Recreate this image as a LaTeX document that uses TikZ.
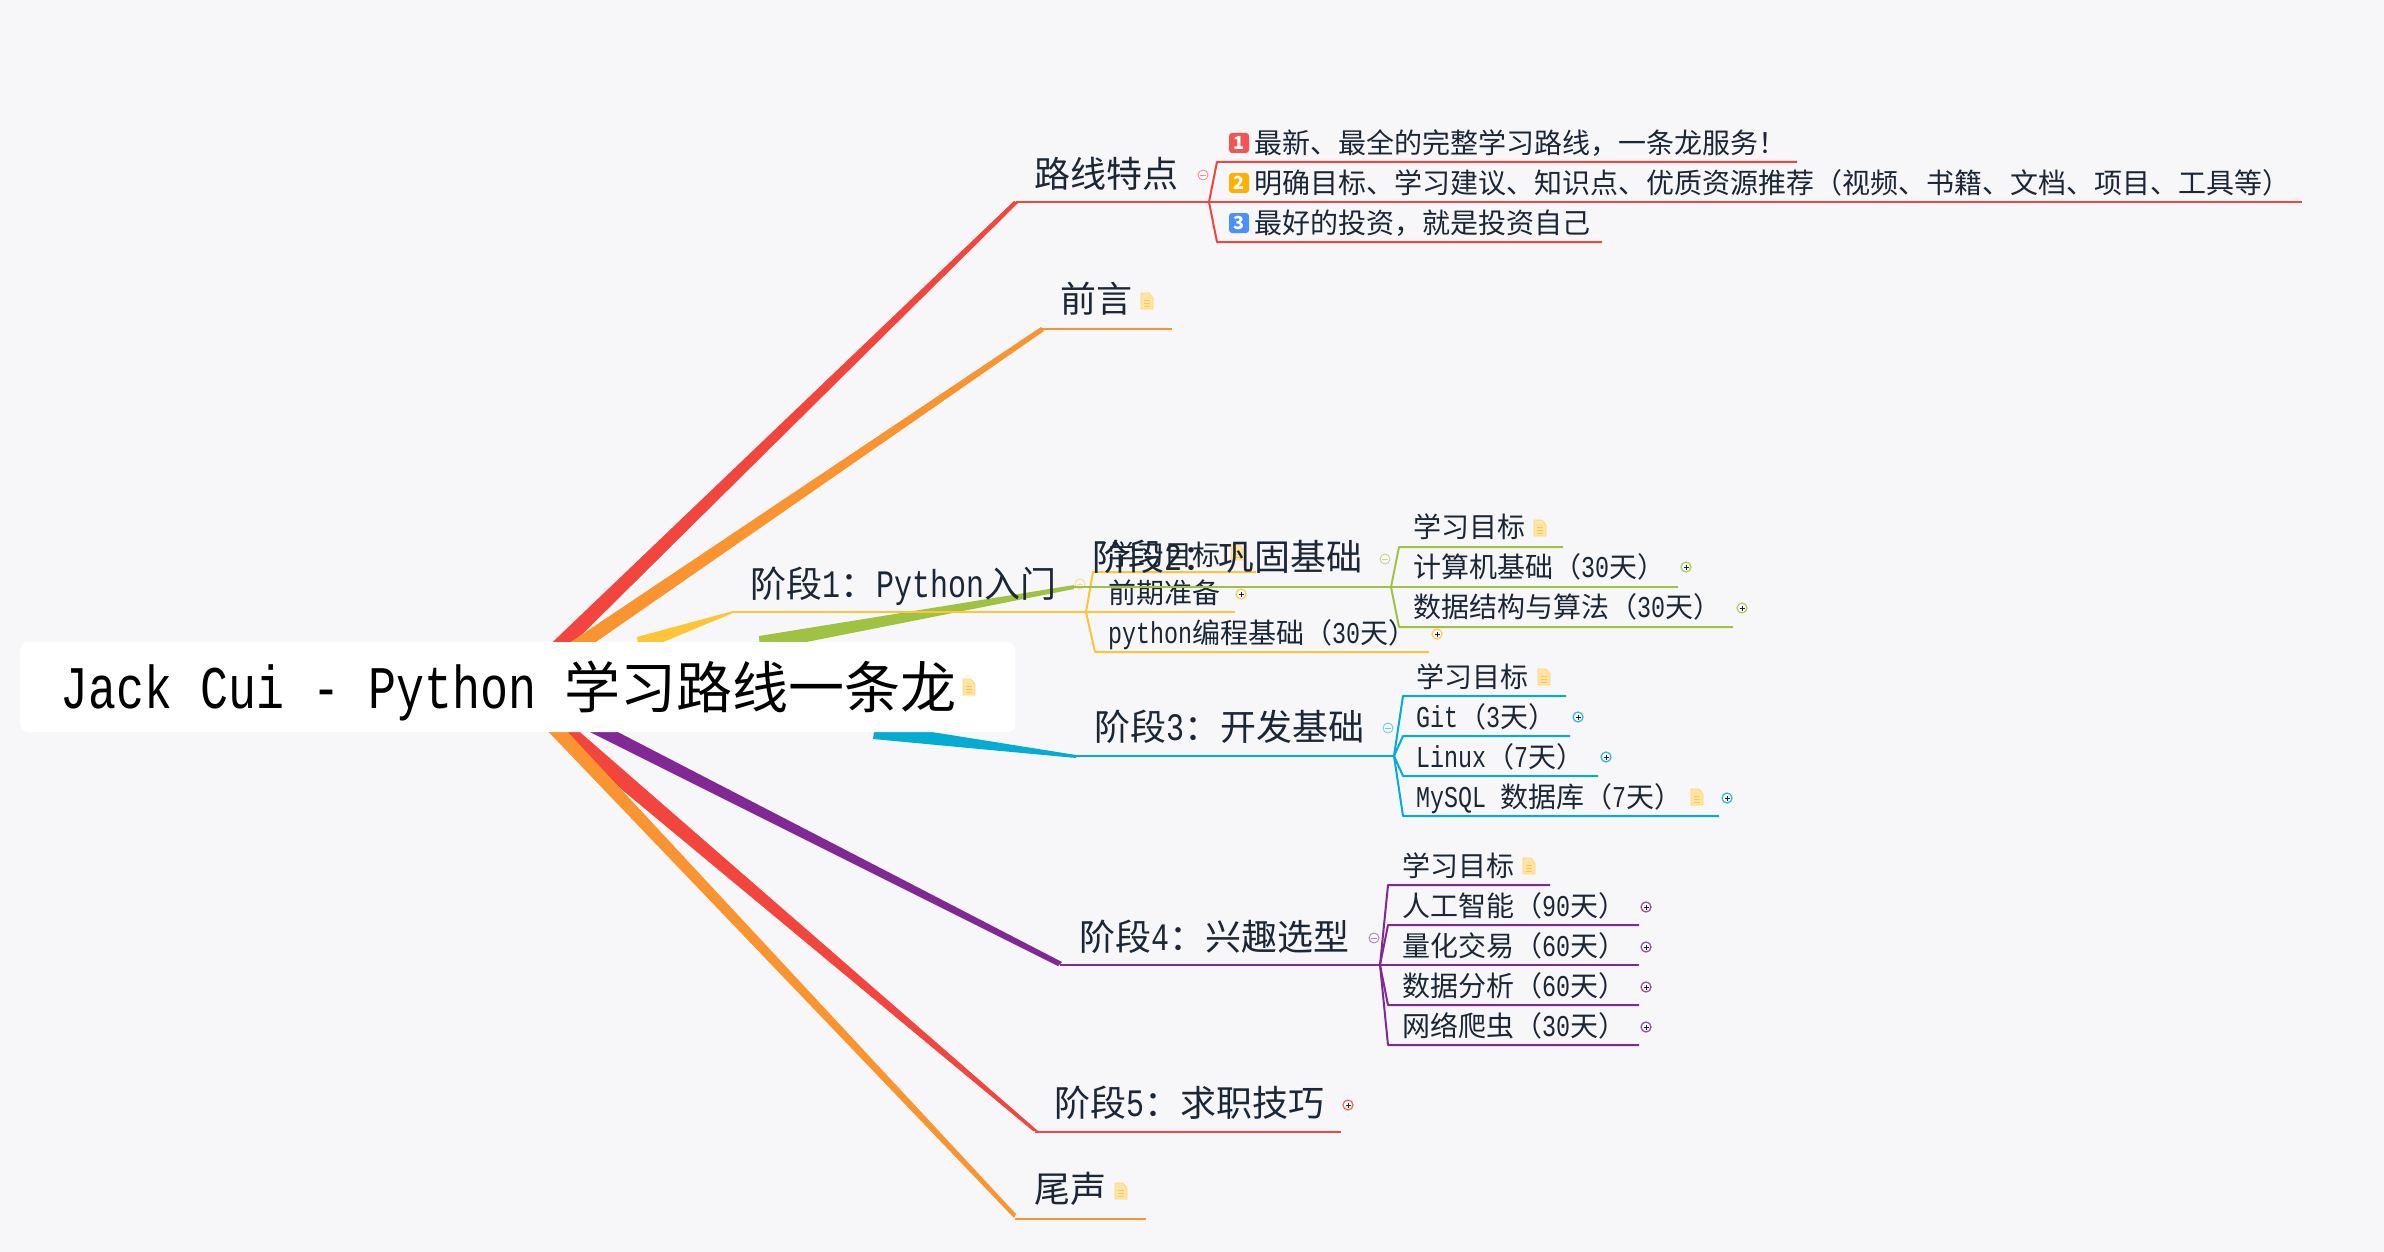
\documentclass[tikz,border=0pt]{standalone}
\usepackage{fontspec}
\setmainfont{Noto Sans CJK SC}
\newfontfamily\latfont[Scale=1.08,FakeStretch=0.7716]{Liberation Mono}
\newcommand{\lat}[1]{{\latfont #1}}
\newcommand{\lsp}{\hspace{.463em}}
\definecolor{bgcol}{HTML}{F7F7FA}
\definecolor{redcol}{HTML}{F2453D}
\definecolor{orgcol}{HTML}{F99431}
\definecolor{ylwcol}{HTML}{FFC437}
\definecolor{grncol}{HTML}{A0C243}
\definecolor{cyncol}{HTML}{04ABD2}
\definecolor{prpcol}{HTML}{802995}
\definecolor{inkcol}{HTML}{1B2636}
\definecolor{onecol}{HTML}{F25555}
\definecolor{twocol}{HTML}{FFB000}
\definecolor{thrcol}{HTML}{4C90FF}
\tikzset{
  rootbox/.style={fill=white, rounded corners=8pt, anchor=west, minimum height=90pt,
    text width=915pt, align=left, inner xsep=40pt, inner ysep=0pt, text=black,
    text height=52pt, text depth=10pt, font=\fontsize{56}{56}\selectfont},
  topic/.style={anchor=west, inner sep=0pt, text=inkcol, text height=32pt, text depth=7pt,
    font=\fontsize{36}{36}\selectfont},
  kid/.style={anchor=west, inner sep=0pt, text=inkcol, text height=26pt, text depth=5pt,
    font=\fontsize{28}{28}\selectfont},
  badge/.style={fill=#1, text=white, rounded corners=3pt, minimum size=20pt, inner sep=0pt,
    font=\fontsize{18}{18}\selectfont\bfseries},
  ln/.style={line width=2pt, color=#1, line join=round},
  minusicon/.pic={
    \draw[#1, opacity=.6, line width=.9pt, fill=white] (0,0) circle (5);
    \draw[#1, opacity=.6, line width=.9pt] (-3,0) -- (3,0);
  },
  plusicon/.pic={
    \draw[#1, opacity=.8, line width=1.3pt, fill=white] (0,0) circle (5);
    \draw[inkcol, line width=.8pt] (-2.5,0) -- (2.5,0) (0,-2.5) -- (0,2.5);
  },
  noteicon/.pic={
    \draw[fill=ylwcol!45, draw=ylwcol!70, line width=.8pt] (-6,-8) -- (2,-8) -- (6,-3) -- (6,8) -- (-6,8) -- cycle;
    \draw[ylwcol!90, line width=1pt] (-3,-1) -- (3,-1) (-3,2) -- (3,2) (-3,5) -- (3,5);
  }
}
\begin{document}
\begin{tikzpicture}[x=1pt, y=-1pt]
\useasboundingbox (0,0) rectangle (2384,1252);
\fill[bgcol] (0,0) rectangle (2384,1252);

% junctions on the topic lines
\coordinate (t1) at (1016,202);   \coordinate (j1) at (1209,202);
\coordinate (t2) at (1042,329);   \coordinate (j2) at (1172,329);
\coordinate (t3) at (733,612);    \coordinate (j3) at (1086,612);
\coordinate (t4) at (1074,587);   \coordinate (j4) at (1391,587);
\coordinate (t5) at (1076,756);   \coordinate (j5) at (1394,756);
\coordinate (t6) at (1060,965);   \coordinate (j6) at (1380,965);
\coordinate (t7) at (1035,1132);  \coordinate (j7) at (1341,1132);
\coordinate (t8) at (1015,1219);  \coordinate (j8) at (1146,1219);

% wide ends, under the root box
\coordinate (a1) at (513,680);  \coordinate (b1) at (536,680);
\coordinate (a2) at (514,680);  \coordinate (b2) at (541,680);
\coordinate (a3) at (637,637);  \coordinate (b3) at (644,650);  \coordinate (c3) at (639,650);
\coordinate (a4) at (759,636);  \coordinate (b4) at (766,650);  \coordinate (c4) at (760,650);
\coordinate (a5) at (873,739);  \coordinate (b5) at (888,725);  \coordinate (c5) at (875,725);
\coordinate (a6) at (582,728);  \coordinate (b6) at (610,728);
\coordinate (a7) at (514,700);  \coordinate (b7) at (543,700);
\coordinate (a8) at (518,700);  \coordinate (b8) at (538,700);

% thin ends, by the topic lines
\coordinate (u1) at (1014,201);  \coordinate (v1) at (1018,203);
\coordinate (u2) at (1041,327);  \coordinate (v2) at (1044,331);
\coordinate (u3) at (733,611);   \coordinate (v3) at (733,613);
\coordinate (u4) at (1074,585);  \coordinate (v4) at (1074,589);
\coordinate (u5) at (1076,758);  \coordinate (v5) at (1076,755);
\coordinate (u6) at (1058,966);  \coordinate (v6) at (1062,962);
\coordinate (u7) at (1033,1131); \coordinate (v7) at (1038,1131);
\coordinate (u8) at (1014,1218); \coordinate (v8) at (1016,1214);

\fill[redcol] (a1) -- (u1) -- (v1) -- (b1) -- cycle;
\fill[orgcol] (a2) -- (u2) -- (v2) -- (b2) -- cycle;
\fill[ylwcol] (a3) -- (u3) -- (v3) -- (b3) -- (c3) -- cycle;
\fill[grncol] (a4) -- (u4) -- (v4) -- (b4) -- (c4) -- cycle;
\fill[cyncol] (a5) -- (u5) -- (v5) -- (b5) -- (c5) -- cycle;
\fill[prpcol] (a6) -- (u6) -- (v6) -- (b6) -- cycle;
\fill[redcol] (a7) -- (u7) -- (v7) -- (b7) -- cycle;
\fill[orgcol] (a8) -- (u8) -- (v8) -- (b8) -- cycle;

\draw[ln=redcol] (t1) -- (j1);
\draw[ln=orgcol] (t2) -- (j2);
\draw[ln=ylwcol] (t3) -- (j3);
\draw[ln=cyncol] (t5) -- (j5);
\draw[ln=prpcol] (t6) -- (j6);
\draw[ln=redcol] (t7) -- (j7);
\draw[ln=orgcol] (t8) -- (j8);

\node[rootbox] (root) at (20,687) {\lat{Jack\lsp Cui\lsp -\lsp Python\lsp}学习路线一条龙};
\pic at (969,687) {noteicon};

% route features
\node[topic] (feat) at (1034,175) {路线特点};
\pic at (1203,175) {minusicon=redcol};
\node[badge=onecol] (n1) at (1239,143) {1};
\node[badge=twocol] (n2) at (1239,183) {2};
\node[badge=thrcol] (n3) at (1239,223) {3};
\node[kid] (f1) at (1254,143) {最新、最全的完整学习路线，一条龙服务！};
\node[kid] (f2) at (1254,183) {明确目标、学习建议、知识点、优质资源推荐（视频、书籍、文档、项目、工具等）};
\node[kid] (f3) at (1254,223) {最好的投资，就是投资自己};
\coordinate (s11) at (1217,162);  \coordinate (e11) at (1797,162);
\coordinate (e12) at (2302,202);
\coordinate (s13) at (1217,242);  \coordinate (e13) at (1602,242);
\draw[ln=redcol] (j1) -- (s11) -- (e11);
\draw[ln=redcol] (j1) -- (e12);
\draw[ln=redcol] (j1) -- (s13) -- (e13);

% preface
\node[topic] (pref) at (1060,300) {前言};
\pic at (1147,301) {noteicon};

% stage 1
\node[topic] (st1) at (750,585) {阶段\lat{1}：\lat{Python}入门};
\pic at (1080,584) {minusicon=ylwcol};
\node[kid] (k31) at (1108,555) {学习目标};
\pic at (1237,552) {noteicon};
\node[kid] (k32) at (1108,593) {前期准备};
\pic at (1241,594) {plusicon=ylwcol};
\node[kid] (k33) at (1108,633) {\lat{python}编程基础（\lat{30}天）};
\pic at (1437,634) {plusicon=ylwcol};
\coordinate (s31) at (1093,572);  \coordinate (e31) at (1256,572);
\coordinate (e32) at (1235,612);
\coordinate (s33) at (1095,652);  \coordinate (e33) at (1429,652);
\draw[ln=ylwcol] (j3) -- (s31) -- (e31);
\draw[ln=ylwcol] (j3) -- (e32);
\draw[ln=ylwcol] (j3) -- (s33) -- (e33);

% stage 2
\draw[ln=grncol] (t4) -- (j4);
\node[topic] (st2) at (1092,558) {阶段\lat{2}：巩固基础};
\pic at (1385,559) {minusicon=grncol};
\node[kid] (k41) at (1413,527) {学习目标};
\pic at (1540,528) {noteicon};
\node[kid] (k42) at (1413,567) {计算机基础（\lat{30}天）};
\pic at (1686,567) {plusicon=grncol};
\node[kid] (k43) at (1413,607) {数据结构与算法（\lat{30}天）};
\pic at (1742,608) {plusicon=grncol};
\coordinate (s41) at (1399,547);  \coordinate (e41) at (1563,547);
\coordinate (e42) at (1678,587);
\coordinate (s43) at (1399,627);  \coordinate (e43) at (1733,627);
\draw[ln=grncol] (j4) -- (s41) -- (e41);
\draw[ln=grncol] (j4) -- (e42);
\draw[ln=grncol] (j4) -- (s43) -- (e43);

% stage 3
\node[topic] (st3) at (1094,728) {阶段\lat{3}：开发基础};
\pic at (1388,728) {minusicon=cyncol};
\node[kid] (k51) at (1416,677) {学习目标};
\pic at (1544,677) {noteicon};
\node[kid] (k52) at (1416,717) {\lat{Git}（\lat{3}天）};
\pic at (1578,717) {plusicon=cyncol};
\node[kid] (k53) at (1416,757) {\lat{Linux}（\lat{7}天）};
\pic at (1606,757) {plusicon=cyncol};
\node[kid] (k54) at (1416,797) {\lat{MySQL\lsp}数据库（\lat{7}天）};
\pic at (1697,797) {noteicon};
\pic at (1727,798) {plusicon=cyncol};
\coordinate (s51) at (1403,696);  \coordinate (e51) at (1566,696);
\coordinate (s52) at (1403,736);  \coordinate (e52) at (1570,736);
\coordinate (s53) at (1403,776);  \coordinate (e53) at (1598,776);
\coordinate (s54) at (1403,816);  \coordinate (e54) at (1719,816);
\draw[ln=cyncol] (j5) -- (s51) -- (e51);
\draw[ln=cyncol] (j5) -- (s52) -- (e52);
\draw[ln=cyncol] (j5) -- (s53) -- (e53);
\draw[ln=cyncol] (j5) -- (s54) -- (e54);

% stage 4
\node[topic] (st4) at (1079,938) {阶段\lat{4}：兴趣选型};
\pic at (1374,938) {minusicon=prpcol};
\node[kid] (k61) at (1402,866) {学习目标};
\pic at (1529,866) {noteicon};
\node[kid] (k62) at (1402,906) {人工智能（\lat{90}天）};
\pic at (1646,907) {plusicon=prpcol};
\node[kid] (k63) at (1402,946) {量化交易（\lat{60}天）};
\pic at (1646,947) {plusicon=prpcol};
\node[kid] (k64) at (1402,986) {数据分析（\lat{60}天）};
\pic at (1646,987) {plusicon=prpcol};
\node[kid] (k65) at (1402,1026) {网络爬虫（\lat{30}天）};
\pic at (1646,1027) {plusicon=prpcol};
\coordinate (s61) at (1388,885);   \coordinate (e61) at (1550,885);
\coordinate (s62) at (1388,925);   \coordinate (e62) at (1639,925);
\coordinate (e63) at (1639,965);
\coordinate (s64) at (1388,1005);  \coordinate (e64) at (1639,1005);
\coordinate (s65) at (1388,1045);  \coordinate (e65) at (1639,1045);
\draw[ln=prpcol] (j6) -- (s61) -- (e61);
\draw[ln=prpcol] (j6) -- (s62) -- (e62);
\draw[ln=prpcol] (j6) -- (e63);
\draw[ln=prpcol] (j6) -- (s64) -- (e64);
\draw[ln=prpcol] (j6) -- (s65) -- (e65);

% stage 5 and ending
\node[topic] (st5) at (1054,1104) {阶段\lat{5}：求职技巧};
\pic at (1348,1105) {plusicon=redcol};
\node[topic] (tail) at (1034,1190) {尾声};
\pic at (1121,1191) {noteicon};

\end{tikzpicture}
\end{document}
